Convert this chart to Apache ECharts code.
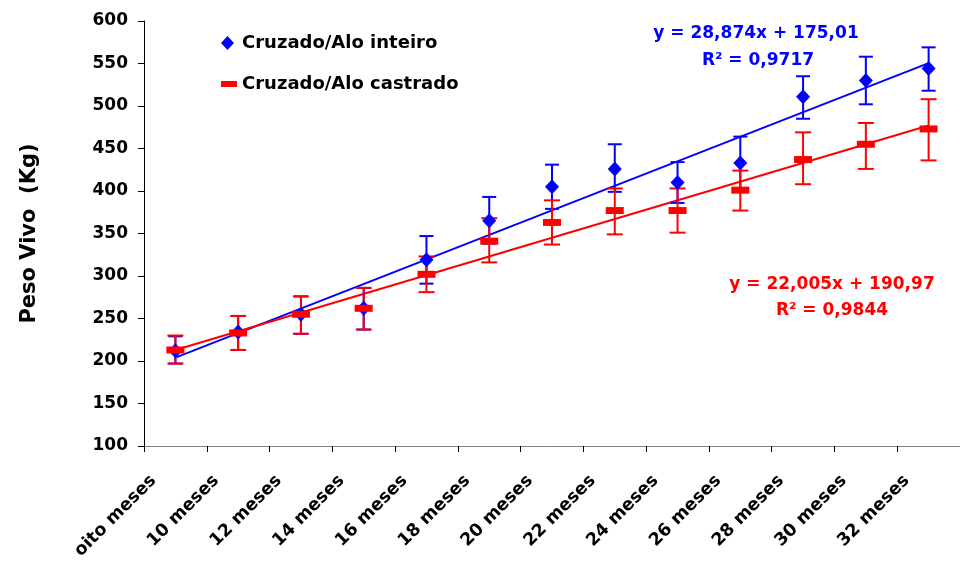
<!DOCTYPE html>
<html>
<head>
<meta charset="utf-8">
<script src="https://cdn.jsdelivr.net/npm/echarts@6/dist/echarts.min.js"></script>
<style>
html,body{margin:0;padding:0;background:#fff;}
#chart{width:960px;height:563px;}
</style>
</head>
<body>
<div id="chart"></div>
<script>
// ---- data ----
const categories = ['oito meses','10 meses','12 meses','14 meses','16 meses','18 meses','20 meses','22 meses','24 meses','26 meses','28 meses','30 meses','32 meses'];
const inteiroMean = [212, 234, 255, 262, 319, 365, 405, 426, 410, 433, 511, 530, 544];
const inteiroLow  = [197, 213, 232, 237, 291, 338, 379, 399, 386, 402, 485, 502, 518];
const inteiroHigh = [229, 253, 276, 286, 347, 393, 431, 455, 434, 464, 535, 558, 569];
const castradoMean = [213, 233, 255, 262, 302, 341, 363, 377, 377, 401, 437, 455, 473];
const castradoLow  = [197, 213, 232, 237, 281, 316, 337, 349, 351, 377, 408, 426, 436];
const castradoHigh = [230, 253, 276, 286, 323, 368, 389, 403, 403, 424, 469, 480, 508];
// trend lines (linear fits shown on chart), value at first and last category
const inteiroTrend = [203.9, 550.4];
const castradoTrend = [213.0, 477.0];
const yTicks = {min: 100, max: 600, step: 50};
const nameInteiro = 'Cruzado/Alo inteiro';
const nameCastrado = 'Cruzado/Alo castrado';
const eqInteiro = ['y = 28,874x + 175,01', 'R² = 0,9717'];
const eqCastrado = ['y = 22,005x + 190,97', 'R² = 0,9844'];

const BLUE = '#0000FF', RED = '#FF0000';
const FONT = 'DejaVu Sans';

function errData(lo, hi){ return lo.map((v,i)=>[i, v, hi[i]]); }
function errRender(color, half){
  return function(params, api){
    const x = api.value(0);
    const a = api.coord([x, api.value(1)]);
    const b = api.coord([x, api.value(2)]);
    const st = {stroke: color, lineWidth: 2};
    return {type:'group', children:[
      {type:'line', shape:{x1:a[0], y1:a[1], x2:b[0], y2:b[1]}, style: st},
      {type:'line', shape:{x1:a[0]-half, y1:a[1], x2:a[0]+half, y2:a[1]}, style: st},
      {type:'line', shape:{x1:b[0]-half, y1:b[1], x2:b[0]+half, y2:b[1]}, style: st}
    ]};
  };
}

const chart = echarts.init(document.getElementById('chart'), null, {renderer:'canvas'});
const last = categories.length - 1;
chart.setOption({
  animation: false,
  backgroundColor: '#fff',
  textStyle: {fontFamily: FONT},
  grid: {left: 144, top: 21, width: 826, bottom: 117},
  legend: [
    {data:[{name: nameInteiro, icon:'diamond'}], left: 216, top: 29, itemWidth: 13, itemHeight: 14,
     textStyle:{fontSize: 18, fontWeight:'bold', fontFamily: FONT, color:'#000', padding:[0,0,0,3]}},
    {data:[{name: nameCastrado, icon:'rect'}], left: 216, top: 70, itemWidth: 16, itemHeight: 6,
     textStyle:{fontSize: 18, fontWeight:'bold', fontFamily: FONT, color:'#000', padding:[0,0,0,0]}}
  ],
  xAxis: {
    type: 'category', data: categories, boundaryGap: true,
    axisLine: {lineStyle:{color:'#808080', width:1}},
    axisTick: {show:true, length:6, lineStyle:{color:'#000'}},
    axisLabel: {interval: 0, rotate: 45, margin: 10, padding:[0,31,0,0],
      fontSize: 17.5, fontWeight:'bold', fontFamily: FONT, color:'#000'},
    splitLine: {show:false}
  },
  yAxis: {
    type: 'value', min: yTicks.min, max: yTicks.max, interval: yTicks.step,
    name: 'Peso Vivo  (Kg)', nameLocation: 'middle', nameGap: 104, nameRotate: 90,
    nameTextStyle: {fontSize: 21, fontWeight:'bold', fontFamily: FONT, color:'#000'},
    axisLine: {show:true, lineStyle:{color:'#000', width:1}},
    axisTick: {show:true, length:6, lineStyle:{color:'#000'}},
    axisLabel: {margin: 16, fontSize: 17, fontWeight:'bold', fontFamily: FONT, color:'#000'},
    splitLine: {show:false}
  },
  series: [
    {name:'trend inteiro', type:'line', data:[[0, inteiroTrend[0]], [last, inteiroTrend[1]]],
     showSymbol:false, symbol:'none', lineStyle:{color:BLUE, width:2}, z:1, silent:true},
    {name:'trend castrado', type:'line', data:[[0, castradoTrend[0]], [last, castradoTrend[1]]],
     showSymbol:false, symbol:'none', lineStyle:{color:RED, width:2}, z:1, silent:true},
    {name:'err inteiro', type:'custom', data: errData(inteiroLow, inteiroHigh),
     encode:{x:0, y:[1,2]}, renderItem: errRender(BLUE, 7), z:2, silent:true},
    {name:'err castrado', type:'custom', data: errData(castradoLow, castradoHigh),
     encode:{x:0, y:[1,2]}, renderItem: errRender(RED, 8), z:3, silent:true},
    {name: nameInteiro, type:'scatter', data: inteiroMean, symbol:'diamond', symbolSize:[14,15],
     itemStyle:{color:BLUE, opacity:1}, z:4},
    {name: nameCastrado, type:'scatter', data: castradoMean, symbol:'rect', symbolSize:[18,7],
     itemStyle:{color:RED, opacity:1}, z:5}
  ],
  graphic: [
    {type:'text', x: 756, y: 34, style:{text: eqInteiro[0], fill: BLUE, font: 'bold 17px "DejaVu Sans"', textAlign:'center', textVerticalAlign:'middle'}},
    {type:'text', x: 758, y: 61, style:{text: eqInteiro[1], fill: BLUE, font: 'bold 17px "DejaVu Sans"', textAlign:'center', textVerticalAlign:'middle'}},
    {type:'text', x: 832, y: 285, style:{text: eqCastrado[0], fill: RED, font: 'bold 17px "DejaVu Sans"', textAlign:'center', textVerticalAlign:'middle'}},
    {type:'text', x: 832, y: 311, style:{text: eqCastrado[1], fill: RED, font: 'bold 17px "DejaVu Sans"', textAlign:'center', textVerticalAlign:'middle'}}
  ]
});
</script>
</body>
</html>
